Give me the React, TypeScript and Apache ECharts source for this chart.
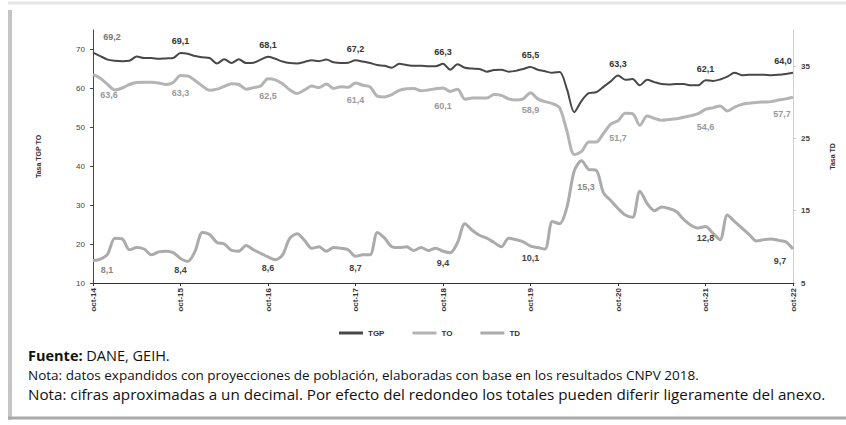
import React, { useEffect, useRef } from "react";
import * as echarts from "echarts";

const monthNames = ["oct", "nov", "dic", "ene", "feb", "mar", "abr", "may", "jun", "jul", "ago", "sep"];
const startYear = 14;
const nMonths = 97;

const tgp = [
  69.2, 68.3, 67.4, 67.1, 67.0, 67.1, 68.2, 67.8, 67.8, 67.6, 67.7, 67.8,
  69.1, 68.9, 68.3, 68.0, 67.8, 66.4, 67.5, 66.5, 67.5, 66.5, 66.6, 67.4,
  68.1, 67.6, 66.9, 66.5, 66.4, 66.8, 67.2, 67.0, 67.4, 66.7, 66.5, 66.6,
  67.2, 66.9, 66.5, 66.0, 65.8, 65.3, 66.3, 66.0, 65.8, 65.8, 65.7, 65.7,
  66.3, 64.8, 66.2, 65.3, 65.1, 65.0, 64.3, 64.7, 64.8, 64.3, 64.5, 65.0,
  65.5, 64.8, 64.4, 64.0, 64.2, 59.8, 53.9, 56.8, 58.8, 59.0, 60.4, 61.8,
  63.3, 62.2, 62.4, 60.8, 62.2, 61.6, 61.1, 61.0, 61.1, 61.1, 60.8, 60.8,
  62.1, 61.9, 62.3, 63.0, 64.0, 63.4, 63.5, 63.5, 63.5, 63.4, 63.5, 63.7,
  64.0,
];

const to = [
  63.6, 62.6, 61.0, 59.6, 60.1, 61.0, 61.5, 61.6, 61.6, 61.4, 61.0, 61.5,
  63.3, 63.2, 62.0, 60.6, 59.5, 59.8, 60.5, 61.2, 61.0, 59.8, 60.2, 60.6,
  62.5, 62.2, 61.2, 59.6, 58.7, 59.6, 60.6, 60.2, 61.1, 60.0, 60.4, 60.3,
  61.4, 60.8, 60.4, 58.0, 57.8, 58.4, 59.5, 59.9, 60.0, 59.4, 59.6, 59.9,
  60.1, 59.2, 59.8, 57.2, 57.5, 57.5, 57.5, 58.4, 58.2, 57.3, 57.0, 57.3,
  58.9, 57.3, 56.6, 56.1, 55.0, 49.0, 43.0, 43.8, 46.2, 46.2, 48.4, 50.8,
  51.7, 53.6, 53.5, 50.5, 52.9, 52.3, 51.8, 52.0, 52.2, 52.6, 53.0, 53.5,
  54.6, 55.0, 55.5, 54.2, 55.2, 55.9, 56.2, 56.4, 56.5, 56.6, 57.0, 57.3,
  57.7,
];

const td = [
  8.1, 8.3, 9.0, 11.2, 11.1, 9.6, 9.9, 9.7, 8.9, 9.3, 9.4, 9.2,
  8.4, 8.0, 9.4, 12.0, 11.7, 10.6, 10.4, 9.5, 9.4, 10.2, 9.6, 9.1,
  8.6, 8.2, 8.9, 11.2, 11.8, 10.9, 9.8, 10.0, 9.4, 9.9, 9.8, 9.6,
  8.7, 8.9, 8.9, 12.0, 11.2, 10.0, 9.9, 10.0, 9.5, 9.9, 9.5, 9.8,
  9.4, 9.2, 10.6, 13.2, 12.3, 11.6, 11.2, 10.6, 10.0, 11.2, 11.0, 10.7,
  10.1, 9.9, 9.7, 13.5, 13.2, 15.5, 20.5, 21.9, 20.7, 20.6, 17.5, 16.4,
  15.3, 14.4, 14.1, 17.7, 16.0, 15.0, 15.5, 15.3, 14.9, 13.8, 13.0, 12.6,
  12.8, 11.9, 11.0, 14.4, 13.5, 12.6, 11.7, 10.8, 11.0, 11.1, 10.9, 10.7,
  9.7,
];

const labelIdx = [0, 12, 24, 36, 48, 60, 72, 84, 96];

const leftTicks = { min: 10, max: 75, interval: 10 };
const rightTicks = { min: 5, max: 40, interval: 10 };

const footSource = "DANE, GEIH.";
const footNote1 = "Nota: datos expandidos con proyecciones de población, elaboradas con base en los resultados CNPV 2018.";
const footNote2 = "Nota: cifras aproximadas a un decimal. Por efecto del redondeo los totales pueden diferir ligeramente del anexo.";

const categories: string[] = [];
for (let i = 0; i < nMonths; i++) {
  const m = monthNames[i % 12];
  const y = startYear + Math.floor((i + 9) / 12);
  categories.push(`${m}-${y}`);
}

const fmt = (v: number) => v.toFixed(1).replace(".", ",");

function build(values: number[], labelCfg: (k: number) => any) {
  return values.map((v, i) => {
    const k = labelIdx.indexOf(i);
    if (k < 0) return v;
    return { value: v, label: { show: true, ...labelCfg(k) } };
  });
}

export default function App() {
  const ref = useRef<HTMLDivElement>(null);
  useEffect(() => {
    if (!ref.current) return;
    const chart = echarts.init(ref.current, null, { renderer: "svg" });
    const labelFont = { fontFamily: "Liberation Sans", fontSize: 9, fontWeight: "bold" };
    const tgpData = build(tgp, (k) => ({
      position: "top",
      offset: k === 0 ? [19, -6] : k === 8 ? [-10, -2] : [0, -2],
      color: k === 0 ? "#777" : "#333",
      formatter: (p: any) => fmt(p.value),
      ...labelFont,
    }));
    const toData = build(to, (k) => ({
      position: "bottom",
      offset: k === 0 ? [16, 11] : k === 8 ? [-11, 7] : [0, 8],
      color: "#9a9a9a",
      formatter: (p: any) => fmt(p.value),
      ...labelFont,
    }));
    const tdData = build(td, (k) => ({
      position: k === 6 ? "top" : "bottom",
      offset: k === 0 ? [14, 0] : k === 6 ? [-32, -12] : k === 8 ? [-13, 2] : [0, 2],
      color: k === 0 || k === 6 ? "#888" : "#444",
      formatter: (p: any) => fmt(p.value),
      ...labelFont,
    }));

    const common = {
      type: "line",
      symbol: "circle",
      symbolSize: 0.01,
      showSymbol: true,
      showAllSymbol: true,
      smooth: 0.3,
      emphasis: { disabled: true },
    };

    const option: any = {
      animation: false,
      backgroundColor: "#fff",
      textStyle: { fontFamily: "Liberation Sans" },
      grid: { left: 93, right: 53, top: 30, bottom: 142 },
      legend: {
        top: 324,
        left: 334,
        itemWidth: 24,
        itemHeight: 3,
        itemGap: 28,
        textStyle: { fontSize: 8, fontWeight: "bold", color: "#333", fontFamily: "Liberation Sans" },
        data: [
          { name: "TGP", icon: "rect" },
          { name: "TO", icon: "rect" },
          { name: "TD", icon: "rect" },
        ],
      },
      xAxis: {
        type: "category",
        data: categories,
        boundaryGap: false,
        axisLine: { lineStyle: { color: "#333", width: 1 } },
        axisTick: { show: true, interval: 11, length: 3, lineStyle: { color: "#333" } },
        axisLabel: {
          interval: 11,
          rotate: 90,
          fontSize: 8,
          fontWeight: "bold",
          color: "#333",
          margin: 5,
        },
        splitLine: { show: false },
      },
      yAxis: [
        {
          type: "value",
          min: leftTicks.min,
          max: leftTicks.max,
          interval: leftTicks.interval,
          position: "left",
          name: "Tasa TGP TO",
          nameLocation: "middle",
          nameRotate: 90,
          nameGap: 51,
          nameTextStyle: { fontSize: 7, fontWeight: "bold", color: "#333" },
          axisLine: { show: true, lineStyle: { color: "#444", width: 1 } },
          axisTick: { show: true, length: 3, lineStyle: { color: "#444" } },
          axisLabel: { fontSize: 8, color: "#444", margin: 8, showMaxLabel: false },
          splitLine: { show: false },
        },
        {
          type: "value",
          min: rightTicks.min,
          max: rightTicks.max,
          interval: rightTicks.interval,
          position: "right",
          name: "Tasa TD",
          nameLocation: "middle",
          nameRotate: 90,
          nameGap: 36,
          nameTextStyle: { fontSize: 7, fontWeight: "bold", color: "#333" },
          axisLine: { show: true, lineStyle: { color: "#d0d0d0", width: 1 } },
          axisTick: { show: true, length: 3, lineStyle: { color: "#ccc" } },
          axisLabel: { fontSize: 8, fontWeight: "bold", color: "#444", margin: 8, showMaxLabel: false },
          splitLine: { show: false },
        },
      ],
      series: [
        {
          ...common,
          name: "TD",
          yAxisIndex: 1,
          data: tdData,
          z: 2,
          lineStyle: { color: "#ababab", width: 3 },
          itemStyle: { color: "#ababab" },
        },
        {
          ...common,
          name: "TO",
          yAxisIndex: 0,
          data: toData,
          z: 3,
          lineStyle: { color: "#b4b4b4", width: 3 },
          itemStyle: { color: "#b4b4b4" },
        },
        {
          ...common,
          name: "TGP",
          yAxisIndex: 0,
          data: tgpData,
          z: 4,
          lineStyle: { color: "#484848", width: 2 },
          itemStyle: { color: "#484848" },
        },
      ],
      graphic: [
        { type: "line", shape: { x1: 10, y1: 10, x2: 10, y2: 420 }, style: { stroke: "#c4c4c4", lineWidth: 4 } },
        { type: "line", shape: { x1: 8, y1: 418, x2: 846, y2: 418 }, style: { stroke: "#a9a9a9", lineWidth: 3 } },
        { type: "line", shape: { x1: 8, y1: 3, x2: 846, y2: 3 }, style: { stroke: "#e6e6e6", lineWidth: 3 } },
        {
          type: "text",
          left: 28,
          top: 348,
          style: {
            text: "{b|Fuente:} " + footSource,
            fontSize: 14.5,
            fontFamily: "Open Sans",
            fill: "#111",
            rich: { b: { fontWeight: "bold", fontSize: 14.5, fontFamily: "Open Sans", fill: "#111" } },
          },
        },
        {
          type: "text",
          left: 28,
          top: 368,
          style: { text: footNote1, fontSize: 13.5, fontFamily: "Open Sans", fill: "#111" },
        },
        {
          type: "text",
          left: 28,
          top: 386,
          style: { text: footNote2, fontSize: 15.2, fontFamily: "Open Sans", fill: "#111" },
        },
      ],
    };
    chart.setOption(option);
    return () => chart.dispose();
  }, []);
  return (
    <div
      ref={ref}
      style={{ position: "fixed", left: 0, top: 0, width: 846, height: 425, background: "#fff" }}
    />
  );
}
